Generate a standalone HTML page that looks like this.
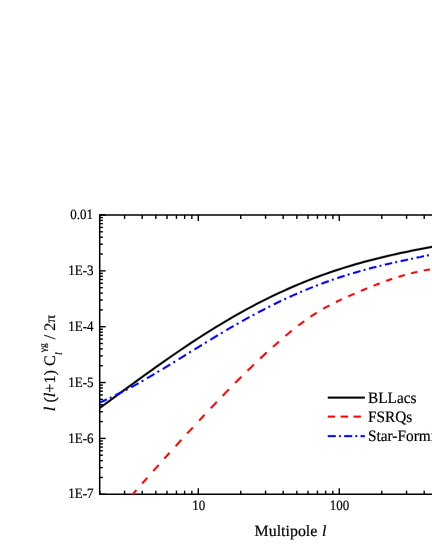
<!DOCTYPE html>
<html><head><meta charset="utf-8"><title>chart</title>
<style>
html,body{margin:0;padding:0;background:#fff;}
body{width:432px;height:559px;overflow:hidden;}
svg{display:block;will-change:transform;transform:translateZ(0);}
text{font-family:"Liberation Serif",serif;fill:#000;text-rendering:geometricPrecision;stroke:#000;stroke-width:0.2px;}
</style></head><body>
<svg width="432" height="559" viewBox="0 0 432 559">
<rect width="432" height="559" fill="#fff"/>
<defs><clipPath id="pc"><rect x="99.9" y="215.0" width="335.3" height="279.65"/></clipPath></defs>

<g stroke="#000" stroke-width="1.5" fill="none" stroke-linecap="butt">
<path d="M434 215.0 L99.7 215.0 L99.7 494.25 L434 494.25" stroke-linejoin="miter"/>
</g>
<g stroke="#000" stroke-width="1.4" fill="none">
<path d="M99.7 494.25 h6.0"/>
<path d="M99.7 477.44 h3.2"/>
<path d="M99.7 467.60 h3.2"/>
<path d="M99.7 460.62 h3.2"/>
<path d="M99.7 455.21 h3.2"/>
<path d="M99.7 450.79 h3.2"/>
<path d="M99.7 447.05 h3.2"/>
<path d="M99.7 443.81 h3.2"/>
<path d="M99.7 440.96 h3.2"/>
<path d="M99.7 438.40 h6.0"/>
<path d="M99.7 421.59 h3.2"/>
<path d="M99.7 411.75 h3.2"/>
<path d="M99.7 404.77 h3.2"/>
<path d="M99.7 399.36 h3.2"/>
<path d="M99.7 394.94 h3.2"/>
<path d="M99.7 391.20 h3.2"/>
<path d="M99.7 387.96 h3.2"/>
<path d="M99.7 385.11 h3.2"/>
<path d="M99.7 382.55 h6.0"/>
<path d="M99.7 365.74 h3.2"/>
<path d="M99.7 355.90 h3.2"/>
<path d="M99.7 348.92 h3.2"/>
<path d="M99.7 343.51 h3.2"/>
<path d="M99.7 339.09 h3.2"/>
<path d="M99.7 335.35 h3.2"/>
<path d="M99.7 332.11 h3.2"/>
<path d="M99.7 329.26 h3.2"/>
<path d="M99.7 326.70 h6.0"/>
<path d="M99.7 309.89 h3.2"/>
<path d="M99.7 300.05 h3.2"/>
<path d="M99.7 293.07 h3.2"/>
<path d="M99.7 287.66 h3.2"/>
<path d="M99.7 283.24 h3.2"/>
<path d="M99.7 279.50 h3.2"/>
<path d="M99.7 276.26 h3.2"/>
<path d="M99.7 273.41 h3.2"/>
<path d="M99.7 270.85 h6.0"/>
<path d="M99.7 254.04 h3.2"/>
<path d="M99.7 244.20 h3.2"/>
<path d="M99.7 237.22 h3.2"/>
<path d="M99.7 231.81 h3.2"/>
<path d="M99.7 227.39 h3.2"/>
<path d="M99.7 223.65 h3.2"/>
<path d="M99.7 220.41 h3.2"/>
<path d="M99.7 217.56 h3.2"/>
<path d="M99.7 215.00 h6.0"/>
<path d="M99.75 494.25 v-3.6"/>
<path d="M99.75 215.0 v3.9"/>
<path d="M124.57 494.25 v-3.6"/>
<path d="M124.57 215.0 v3.9"/>
<path d="M142.19 494.25 v-3.6"/>
<path d="M142.19 215.0 v3.9"/>
<path d="M155.85 494.25 v-3.6"/>
<path d="M155.85 215.0 v3.9"/>
<path d="M167.02 494.25 v-3.6"/>
<path d="M167.02 215.0 v3.9"/>
<path d="M176.46 494.25 v-3.6"/>
<path d="M176.46 215.0 v3.9"/>
<path d="M184.64 494.25 v-3.6"/>
<path d="M184.64 215.0 v3.9"/>
<path d="M191.85 494.25 v-3.6"/>
<path d="M191.85 215.0 v3.9"/>
<path d="M198.30 494.25 v-6.0"/>
<path d="M198.30 215.0 v6.0"/>
<path d="M240.75 494.25 v-3.6"/>
<path d="M240.75 215.0 v3.9"/>
<path d="M265.57 494.25 v-3.6"/>
<path d="M265.57 215.0 v3.9"/>
<path d="M283.19 494.25 v-3.6"/>
<path d="M283.19 215.0 v3.9"/>
<path d="M296.85 494.25 v-3.6"/>
<path d="M296.85 215.0 v3.9"/>
<path d="M308.02 494.25 v-3.6"/>
<path d="M308.02 215.0 v3.9"/>
<path d="M317.46 494.25 v-3.6"/>
<path d="M317.46 215.0 v3.9"/>
<path d="M325.64 494.25 v-3.6"/>
<path d="M325.64 215.0 v3.9"/>
<path d="M332.85 494.25 v-3.6"/>
<path d="M332.85 215.0 v3.9"/>
<path d="M339.30 494.25 v-6.0"/>
<path d="M339.30 215.0 v6.0"/>
<path d="M381.75 494.25 v-3.6"/>
<path d="M381.75 215.0 v3.9"/>
<path d="M406.57 494.25 v-3.6"/>
<path d="M406.57 215.0 v3.9"/>
<path d="M424.19 494.25 v-3.6"/>
<path d="M424.19 215.0 v3.9"/>
</g>
<g clip-path="url(#pc)"><g fill="none" stroke-width="1.75">
<path d="M96.00 410.67 L100.00 407.76 L104.00 404.84 L108.00 401.92 L112.00 398.99 L116.00 396.06 L120.00 393.13 L124.00 390.21 L128.00 387.28 L132.00 384.36 L136.00 381.45 L140.00 378.55 L144.00 375.66 L148.00 372.79 L152.00 369.92 L156.00 367.07 L160.00 364.24 L164.00 361.43 L168.00 358.63 L172.00 355.86 L176.00 353.11 L180.00 350.38 L184.00 347.68 L188.00 345.00 L192.00 342.35 L196.00 339.73 L200.00 337.14 L204.00 334.58 L208.00 332.05 L212.00 329.54 L216.00 327.08 L220.00 324.64 L224.00 322.24 L228.00 319.88 L232.00 317.55 L236.00 315.25 L240.00 312.99 L244.00 310.77 L248.00 308.59 L252.00 306.44 L256.00 304.34 L260.00 302.27 L264.00 300.24 L268.00 298.24 L272.00 296.29 L276.00 294.38 L280.00 292.51 L284.00 290.67 L288.00 288.88 L292.00 287.12 L296.00 285.41 L300.00 283.73 L304.00 282.09 L308.00 280.50 L312.00 278.94 L316.00 277.41 L320.00 275.93 L324.00 274.48 L328.00 273.07 L332.00 271.70 L336.00 270.36 L340.00 269.06 L344.00 267.79 L348.00 266.56 L352.00 265.36 L356.00 264.19 L360.00 263.05 L364.00 261.95 L368.00 260.87 L372.00 259.82 L376.00 258.81 L380.00 257.81 L384.00 256.85 L388.00 255.91 L392.00 254.99 L396.00 254.09 L400.00 253.21 L404.00 252.36 L408.00 251.52 L412.00 250.70 L416.00 249.89 L420.00 249.10 L424.00 248.32 L428.00 247.55 L432.00 246.79 L436.00 246.04 L440.00 245.29" stroke="#000" stroke-width="2.75" stroke-opacity="0.3" stroke-linecap="butt"/>
<path d="M96.00 410.67 L100.00 407.76 L104.00 404.84 L108.00 401.92 L112.00 398.99 L116.00 396.06 L120.00 393.13 L124.00 390.21 L128.00 387.28 L132.00 384.36 L136.00 381.45 L140.00 378.55 L144.00 375.66 L148.00 372.79 L152.00 369.92 L156.00 367.07 L160.00 364.24 L164.00 361.43 L168.00 358.63 L172.00 355.86 L176.00 353.11 L180.00 350.38 L184.00 347.68 L188.00 345.00 L192.00 342.35 L196.00 339.73 L200.00 337.14 L204.00 334.58 L208.00 332.05 L212.00 329.54 L216.00 327.08 L220.00 324.64 L224.00 322.24 L228.00 319.88 L232.00 317.55 L236.00 315.25 L240.00 312.99 L244.00 310.77 L248.00 308.59 L252.00 306.44 L256.00 304.34 L260.00 302.27 L264.00 300.24 L268.00 298.24 L272.00 296.29 L276.00 294.38 L280.00 292.51 L284.00 290.67 L288.00 288.88 L292.00 287.12 L296.00 285.41 L300.00 283.73 L304.00 282.09 L308.00 280.50 L312.00 278.94 L316.00 277.41 L320.00 275.93 L324.00 274.48 L328.00 273.07 L332.00 271.70 L336.00 270.36 L340.00 269.06 L344.00 267.79 L348.00 266.56 L352.00 265.36 L356.00 264.19 L360.00 263.05 L364.00 261.95 L368.00 260.87 L372.00 259.82 L376.00 258.81 L380.00 257.81 L384.00 256.85 L388.00 255.91 L392.00 254.99 L396.00 254.09 L400.00 253.21 L404.00 252.36 L408.00 251.52 L412.00 250.70 L416.00 249.89 L420.00 249.10 L424.00 248.32 L428.00 247.55 L432.00 246.79 L436.00 246.04 L440.00 245.29" stroke="#000"/>
<path d="M131.8 495.5 L136.4 490.1 M142.2 483.5 L147.2 477.8 M153.3 471.0 L158.7 465.0 M164.4 458.6 L169.5 452.9 M175.7 446.1 L181.3 439.9 M187.2 433.5 L192.8 427.6 M199.2 420.6 L204.5 414.9 M210.8 408.2 L213.8 405.1 L216.8 401.9 M222.8 395.8 L225.8 392.5 L228.9 389.4 M235.2 382.9 L238.3 379.8 L241.4 376.7 M247.6 370.7 L250.8 367.6 L253.9 364.5 M260.2 358.5 L263.5 355.5 L266.7 352.5 M273.0 346.8 L279.0 341.6 M285.5 335.9 L288.6 333.3 L291.7 330.8 M298.3 325.6 L304.2 321.2 M310.5 316.7 L313.6 314.7 L316.7 312.7 M323.3 308.8 L326.4 307.1 L329.5 305.4 M336.0 302.1 L341.8 299.3 M348.3 296.4 L351.4 295.0 L354.5 293.7 M361.0 290.9 L364.1 289.6 L367.2 288.3 M373.6 285.7 L379.6 283.4 M386.3 280.9 L392.2 278.9 M398.6 276.8 L401.8 275.9 L404.9 275.0 M411.1 273.3 L414.2 272.5 L417.4 271.8 M423.8 270.5 L426.9 269.9 L430.0 269.5 M436.4 268.6 L440.0 268.3" stroke="#ff0000" stroke-width="2.75" stroke-opacity="0.3" stroke-linecap="butt"/>
<path d="M131.8 495.5 L136.4 490.1 M142.2 483.5 L147.2 477.8 M153.3 471.0 L158.7 465.0 M164.4 458.6 L169.5 452.9 M175.7 446.1 L181.3 439.9 M187.2 433.5 L192.8 427.6 M199.2 420.6 L204.5 414.9 M210.8 408.2 L213.8 405.1 L216.8 401.9 M222.8 395.8 L225.8 392.5 L228.9 389.4 M235.2 382.9 L238.3 379.8 L241.4 376.7 M247.6 370.7 L250.8 367.6 L253.9 364.5 M260.2 358.5 L263.5 355.5 L266.7 352.5 M273.0 346.8 L279.0 341.6 M285.5 335.9 L288.6 333.3 L291.7 330.8 M298.3 325.6 L304.2 321.2 M310.5 316.7 L313.6 314.7 L316.7 312.7 M323.3 308.8 L326.4 307.1 L329.5 305.4 M336.0 302.1 L341.8 299.3 M348.3 296.4 L351.4 295.0 L354.5 293.7 M361.0 290.9 L364.1 289.6 L367.2 288.3 M373.6 285.7 L379.6 283.4 M386.3 280.9 L392.2 278.9 M398.6 276.8 L401.8 275.9 L404.9 275.0 M411.1 273.3 L414.2 272.5 L417.4 271.8 M423.8 270.5 L426.9 269.9 L430.0 269.5 M436.4 268.6 L440.0 268.3" stroke="#ff0000"/>
<path d="M99.4 402.6 L103.1 401.1 L106.7 399.4 M109.8 398.0 L111.6 397.2 M115.2 395.4 L118.9 393.6 L122.6 391.7 M125.7 390.1 L127.5 389.2 M131.1 387.2 L134.8 385.2 L138.5 383.2 M141.6 381.4 L143.4 380.4 M147.0 378.3 L150.6 376.2 L154.3 374.0 M157.4 372.1 L159.2 371.1 M162.8 368.9 L166.5 366.7 L170.2 364.4 M173.3 362.5 L175.1 361.4 M178.7 359.2 L182.4 356.9 L186.0 354.7 M189.1 352.7 L190.9 351.6 M194.5 349.4 L198.2 347.2 L201.9 344.9 M205.0 343.0 L206.8 341.9 M210.4 339.7 L214.1 337.5 L217.8 335.3 M220.9 333.5 L222.7 332.4 M226.3 330.3 L229.9 328.1 L233.6 326.0 M236.7 324.2 L238.5 323.2 M242.1 321.2 L245.8 319.1 L249.5 317.1 M252.6 315.4 L254.4 314.4 M258.0 312.5 L261.7 310.6 L265.3 308.7 M268.4 307.1 L270.2 306.2 M273.9 304.4 L277.5 302.6 L281.2 300.8 M284.3 299.4 L286.1 298.5 M289.7 296.9 L293.4 295.2 L297.1 293.6 M300.2 292.3 L302.0 291.5 M305.6 290.0 L309.2 288.5 L312.9 287.0 M316.0 285.8 L317.8 285.1 M321.4 283.8 L325.1 282.4 L328.8 281.1 M331.9 280.0 L333.7 279.4 M337.3 278.2 L341.0 276.9 L344.6 275.8 M347.7 274.8 L349.5 274.2 M353.1 273.2 L356.8 272.1 L360.5 271.0 M363.6 270.2 L365.4 269.7 M369.0 268.7 L372.7 267.7 L376.4 266.8 M379.5 266.0 L381.3 265.6 M384.9 264.7 L388.5 263.8 L392.2 263.0 M395.3 262.3 L397.1 261.9 M400.7 261.1 L404.4 260.3 L408.1 259.5 M411.2 258.9 L413.0 258.5 M416.6 257.7 L420.3 257.0 L423.9 256.2 M427.0 255.6 L428.8 255.2 M432.5 254.5 L436.1 253.7 L439.8 252.9" stroke="#0000ff" stroke-width="2.75" stroke-opacity="0.3" stroke-linecap="butt"/>
<path d="M99.4 402.6 L103.1 401.1 L106.7 399.4 M109.8 398.0 L111.6 397.2 M115.2 395.4 L118.9 393.6 L122.6 391.7 M125.7 390.1 L127.5 389.2 M131.1 387.2 L134.8 385.2 L138.5 383.2 M141.6 381.4 L143.4 380.4 M147.0 378.3 L150.6 376.2 L154.3 374.0 M157.4 372.1 L159.2 371.1 M162.8 368.9 L166.5 366.7 L170.2 364.4 M173.3 362.5 L175.1 361.4 M178.7 359.2 L182.4 356.9 L186.0 354.7 M189.1 352.7 L190.9 351.6 M194.5 349.4 L198.2 347.2 L201.9 344.9 M205.0 343.0 L206.8 341.9 M210.4 339.7 L214.1 337.5 L217.8 335.3 M220.9 333.5 L222.7 332.4 M226.3 330.3 L229.9 328.1 L233.6 326.0 M236.7 324.2 L238.5 323.2 M242.1 321.2 L245.8 319.1 L249.5 317.1 M252.6 315.4 L254.4 314.4 M258.0 312.5 L261.7 310.6 L265.3 308.7 M268.4 307.1 L270.2 306.2 M273.9 304.4 L277.5 302.6 L281.2 300.8 M284.3 299.4 L286.1 298.5 M289.7 296.9 L293.4 295.2 L297.1 293.6 M300.2 292.3 L302.0 291.5 M305.6 290.0 L309.2 288.5 L312.9 287.0 M316.0 285.8 L317.8 285.1 M321.4 283.8 L325.1 282.4 L328.8 281.1 M331.9 280.0 L333.7 279.4 M337.3 278.2 L341.0 276.9 L344.6 275.8 M347.7 274.8 L349.5 274.2 M353.1 273.2 L356.8 272.1 L360.5 271.0 M363.6 270.2 L365.4 269.7 M369.0 268.7 L372.7 267.7 L376.4 266.8 M379.5 266.0 L381.3 265.6 M384.9 264.7 L388.5 263.8 L392.2 263.0 M395.3 262.3 L397.1 261.9 M400.7 261.1 L404.4 260.3 L408.1 259.5 M411.2 258.9 L413.0 258.5 M416.6 257.7 L420.3 257.0 L423.9 256.2 M427.0 255.6 L428.8 255.2 M432.5 254.5 L436.1 253.7 L439.8 252.9" stroke="#0000ff"/>
</g></g>
<text transform="translate(93.00 218.90) scale(0.908 1)" font-size="14.3" text-anchor="end" >0.01</text>
<text transform="translate(93.60 274.81) scale(0.908 1)" font-size="14.3" text-anchor="end" >1E-3</text>
<text transform="translate(93.60 330.72) scale(0.908 1)" font-size="14.3" text-anchor="end" >1E-4</text>
<text transform="translate(93.60 386.63) scale(0.908 1)" font-size="14.3" text-anchor="end" >1E-5</text>
<text transform="translate(93.60 442.54) scale(0.908 1)" font-size="14.3" text-anchor="end" >1E-6</text>
<text transform="translate(93.60 498.45) scale(0.908 1)" font-size="14.3" text-anchor="end" >1E-7</text>
<text transform="translate(198.80 510.30) scale(0.908 1)" font-size="14.3" text-anchor="middle" >10</text>
<text transform="translate(339.50 510.30) scale(0.908 1)" font-size="14.3" text-anchor="middle" >100</text>
<text transform="translate(254.60 536.35) scale(1.02 1)" font-size="15.6" text-anchor="start" >Multipole <tspan font-style="italic" dx="0.7">l</tspan></text>
<g transform="translate(55.4 411.2) rotate(-90)">
<text transform="scale(1.015 1)" x="0" y="0" font-size="16" stroke-width="0.3"><tspan font-style="italic">l</tspan> (<tspan font-style="italic">l</tspan>+1) C</text>
<text x="56.1" y="6.3" font-size="9.5" font-style="italic">l</text>
<text x="59.0" y="-9.4" font-size="9.5">&#947;g</text>
<text x="72.0" y="0" font-size="16">/ 2</text>
<text transform="translate(88.5 0) scale(0.97 0.87)" font-size="16">&#960;</text>
</g>
<g fill="none" stroke-width="1.75">
<path d="M327.8 397.6 H364.8" stroke="#000" stroke-width="2.75" stroke-opacity="0.3"/>
<path d="M327.8 397.6 H364.8" stroke="#000"/>
<path d="M327.8 416.7 H364.8" stroke="#ff0000" stroke-width="2.75" stroke-opacity="0.3" stroke-dasharray="7.3 5.6"/>
<path d="M327.8 416.7 H364.8" stroke="#ff0000" stroke-dasharray="7.3 5.6"/>
<path d="M327.8 436.1 H364.8" stroke="#0000ff" stroke-width="2.75" stroke-opacity="0.3" stroke-dasharray="8 3.2 1.8 3.4"/>
<path d="M327.8 436.1 H364.8" stroke="#0000ff" stroke-dasharray="8 3.2 1.8 3.4"/>
</g>
<text transform="translate(368.00 402.80) scale(0.957 1)" font-size="16" text-anchor="start" >BLLacs</text>
<text transform="translate(368.00 421.80) scale(0.957 1)" font-size="16" text-anchor="start" >FSRQs</text>
<text transform="translate(368.00 441.10) scale(0.957 1)" font-size="16" text-anchor="start" >Star-Forming</text>
</svg></body></html>
